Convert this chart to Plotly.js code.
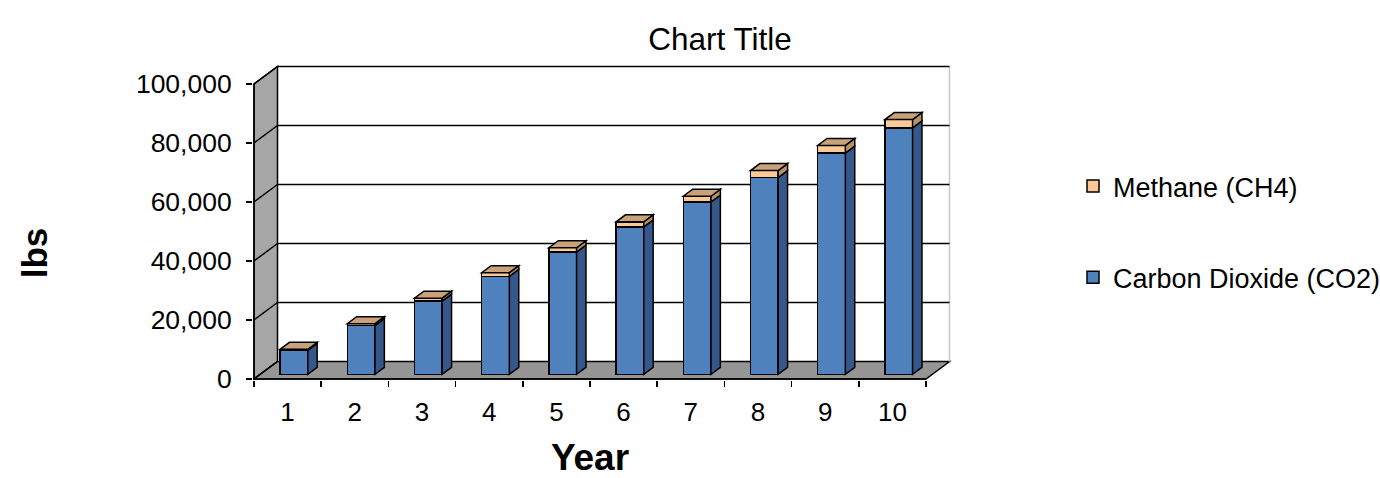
<!DOCTYPE html>
<html>
<head>
<meta charset="utf-8">
<script src="https://cdn.plot.ly/plotly-3.0.1.min.js"></script>
<style>html,body{margin:0;padding:0;background:#fff;}#chart{width:1380px;height:478px;}</style>
</head>
<body>
<div id="chart"></div>
<script>
// ---- data ----
const years = [1, 2, 3, 4, 5, 6, 7, 8, 9, 10];
const yearLabels = ['1', '2', '3', '4', '5', '6', '7', '8', '9', '10'];
const co2 = [8100, 16500, 24800, 33200, 41400, 50000, 58400, 66700, 75000, 83500];
const ch4 = [350, 650, 1000, 1250, 1500, 1700, 1950, 2350, 2600, 2850];
const yTickVals = [0, 20000, 40000, 60000, 80000, 100000];
const yTickLabels = ['0', '20,000', '40,000', '60,000', '80,000', '100,000'];
const seriesNames = ['Carbon Dioxide (CO2)', 'Methane (CH4)'];

// ---- geometry (pixels) ----
const W = 1380, H = 478;
const plotL = 253, plotR = 952, plotT = 60, plotB = 380;
const frontX0 = 254;     // pixel of category edge 0.5
const frontY0 = 379;     // pixel of value 0
const catW = 67.2;       // px per category
const pxPerUnit = 2.95 / 1000; // px per lb
const depthPx = [23.5, 17.5];  // depth vector (right, up)
const barPlane = 0.2686;       // fraction of depth where bar fronts sit
const barDepth = 0.4;          // bar depth as fraction of total depth
const barWidth = 0.412;        // in categories

const xRange = [0.5 - (frontX0 - plotL) / catW, 0.5 + (plotR - frontX0) / catW];
const yRange = [-(plotB - frontY0) / pxPerUnit, (frontY0 - plotT) / pxPerUnit];
const dX = depthPx[0] / catW;
const dY = depthPx[1] / pxPerUnit;
const x2Range = [xRange[0] - barPlane * dX, xRange[1] - barPlane * dX];
const y2Range = [yRange[0] - barPlane * dY, yRange[1] - barPlane * dY];

const font = 'Liberation Sans, Arial, sans-serif';
const nCat = years.length;
const xL = 0.5, xR = nCat + 0.5;
const yMax = yTickVals[yTickVals.length - 1];

const shapes = [];
// side wall
shapes.push({type: 'path', xref: 'x', yref: 'y', layer: 'below',
  path: `M${xL},0 L${xL + dX},${dY} L${xL + dX},${yMax + dY} L${xL},${yMax} Z`,
  fillcolor: '#a6a6a6', line: {color: '#000', width: 1.5}});
// floor
shapes.push({type: 'path', xref: 'x', yref: 'y', layer: 'below',
  path: `M${xL},0 L${xR},0 L${xR + dX},${dY} L${xL + dX},${dY} Z`,
  fillcolor: '#959595', line: {color: '#000', width: 1.5}});
// back wall right edge
shapes.push({type: 'line', xref: 'x', yref: 'y', layer: 'below',
  x0: xR + dX, x1: xR + dX, y0: dY, y1: yMax + dY, line: {color: '#c8c8c8', width: 1.5}});
// gridlines on back wall + side wall
yTickVals.forEach(v => {
  if (v > 0) {
    shapes.push({type: 'line', xref: 'x', yref: 'y', layer: 'below',
      x0: xL + dX, x1: xR + dX, y0: v + dY, y1: v + dY, line: {color: '#000', width: 1.5}});
  }
  shapes.push({type: 'line', xref: 'x', yref: 'y', layer: 'below',
    x0: xL, x1: xL + dX, y0: v, y1: v + dY, line: {color: '#000', width: 1.5}});
});
// 3D faces of bars (in the bar plane axes)
const bdx = barDepth * dX, bdy = barDepth * dY;
years.forEach((yr, i) => {
  const a = yr - barWidth / 2, b = yr + barWidth / 2;
  const c = co2[i], t = co2[i] + ch4[i];
  shapes.push({type: 'path', xref: 'x2', yref: 'y2', layer: 'above',
    path: `M${b},0 L${b},${c} L${b + bdx},${c + bdy} L${b + bdx},${bdy} Z`,
    fillcolor: '#35578a', line: {color: '#000', width: 1.5}});
  shapes.push({type: 'path', xref: 'x2', yref: 'y2', layer: 'above',
    path: `M${b},${c} L${b},${t} L${b + bdx},${t + bdy} L${b + bdx},${c + bdy} Z`,
    fillcolor: '#b8915f', line: {color: '#000', width: 1.5}});
  shapes.push({type: 'path', xref: 'x2', yref: 'y2', layer: 'above',
    path: `M${a},${t} L${b},${t} L${b + bdx},${t + bdy} L${a + bdx},${t + bdy} Z`,
    fillcolor: '#c9a27a', line: {color: '#000', width: 1.5}});
});
// front edges (left vertical and bottom)
shapes.push({type: 'line', xref: 'x', yref: 'y', layer: 'above',
  x0: xL, x1: xL, y0: 0, y1: yMax, line: {color: '#000', width: 1.5}});
shapes.push({type: 'line', xref: 'x', yref: 'y', layer: 'above',
  x0: xL, x1: xR, y0: 0, y1: 0, line: {color: '#000', width: 1.5}});

const traces = [
  {type: 'bar', name: seriesNames[0], x: years, y: co2, xaxis: 'x2', yaxis: 'y2',
   width: barWidth, legendrank: 2, legendgroup: 'co2',
   marker: {color: '#4f81bd', line: {color: '#000', width: 1.5}}, hoverinfo: 'x+y+name'},
  {type: 'bar', name: seriesNames[1], x: years, y: ch4, xaxis: 'x2', yaxis: 'y2',
   width: barWidth, legendrank: 1, legendgroup: 'ch4',
   marker: {color: '#fcc896', line: {color: '#000', width: 1.5}}, hoverinfo: 'x+y+name'},
  // helper traces so that the title-carrying axes are drawn
  {type: 'scatter', x: [null], y: [null], xaxis: 'x3', yaxis: 'y', showlegend: false, hoverinfo: 'skip'},
  {type: 'scatter', x: [null], y: [null], xaxis: 'x', yaxis: 'y3', showlegend: false, hoverinfo: 'skip'}
];

const pw = plotR - plotL, ph = plotB - plotT;
const layout = {
  width: W, height: H, autosize: false,
  margin: {l: plotL, r: W - plotR, t: plotT, b: H - plotB, pad: 0},
  paper_bgcolor: '#ffffff', plot_bgcolor: 'rgba(0,0,0,0)',
  font: {family: font, color: '#000', size: 26},
  barmode: 'stack',
  showlegend: true,
  title: {text: 'Chart Title', font: {family: font, size: 31.5, color: '#000'},
          x: 720 / W, xref: 'container', xanchor: 'center',
          y: 1 - 39 / H, yref: 'container', yanchor: 'middle'},
  xaxis: {range: xRange, tickmode: 'array', tickvals: years, ticktext: yearLabels,
          ticks: '', showgrid: false, zeroline: false, showline: false,
          tickfont: {family: font, size: 26, color: '#000'}, ticklabelstandoff: 14, fixedrange: true},
  yaxis: {range: yRange, tickmode: 'array', tickvals: yTickVals, ticktext: yTickLabels,
          ticks: 'outside', ticklen: 6, tickwidth: 1.5, tickcolor: '#000',
          showgrid: false, zeroline: false, showline: false,
          tickfont: {family: font, size: 26.5, color: '#000'}, ticklabelstandoff: 9, fixedrange: true},
  xaxis2: {range: x2Range, overlaying: 'x', visible: false, fixedrange: true},
  yaxis2: {range: y2Range, overlaying: 'y', visible: false, fixedrange: true},
  xaxis3: {domain: [(frontX0 - plotL) / pw, (frontX0 + catW * nCat - plotL) / pw],
           range: [xL, xR], anchor: 'y', tickmode: 'linear', tick0: 0.5, dtick: 1,
           ticks: 'outside', ticklen: 6, tickwidth: 1.5, tickcolor: '#000',
           showticklabels: false, showgrid: false, zeroline: false, showline: false,
           title: {text: '<b>Year</b>', font: {family: font, size: 37, color: '#000'}, standoff: 67},
           fixedrange: true},
  yaxis3: {domain: [(plotB - 253 - 40) / ph, (plotB - 253 + 40) / ph], anchor: 'x',
           range: [0, 1], showticklabels: false, ticks: '', showgrid: false, zeroline: false,
           showline: false,
           title: {text: '<b>lbs</b>', font: {family: font, size: 35, color: '#000'}, standoff: 193},
           fixedrange: true},
  legend: {x: 1073 / W, xref: 'container', xanchor: 'left', y: 1 - 162 / H, yref: 'container', yanchor: 'top',
           traceorder: 'grouped', tracegroupgap: 53,
           font: {family: font, size: 27, color: '#000'}, bgcolor: 'rgba(0,0,0,0)'},
  shapes: shapes
};

Plotly.newPlot('chart', traces, layout, {displayModeBar: false, staticPlot: true});
</script>
</body>
</html>
